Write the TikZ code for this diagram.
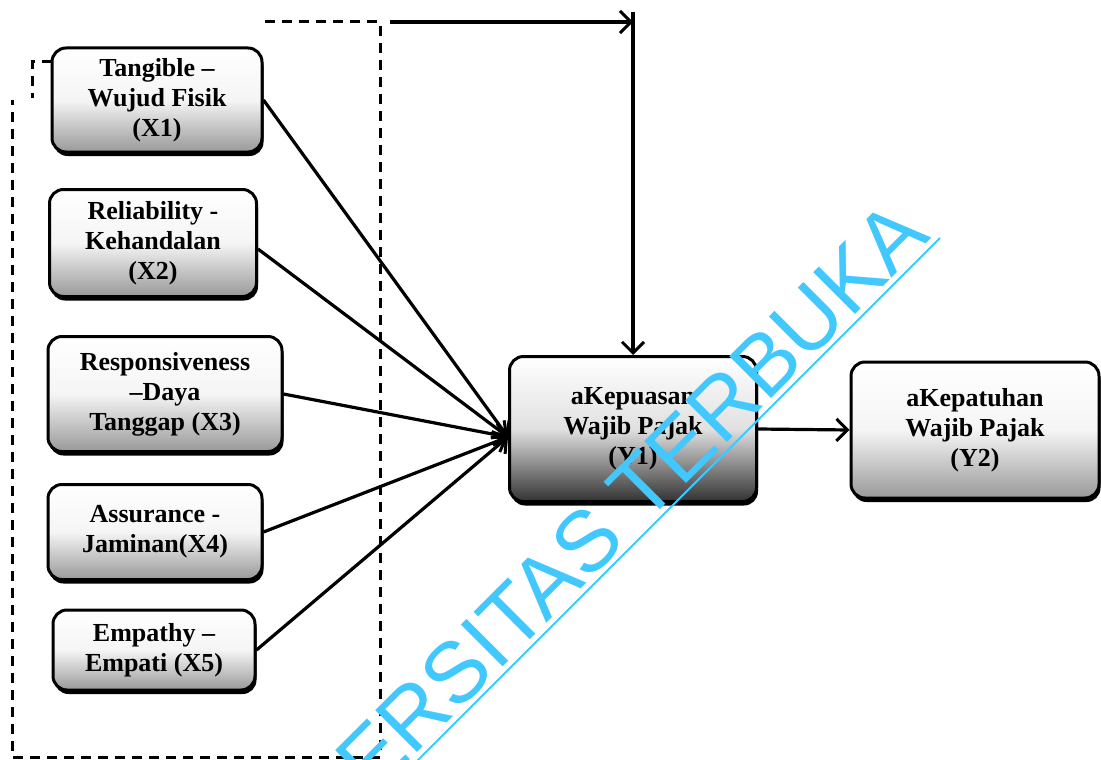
\documentclass[tikz,border=0pt]{standalone}
\usepackage{fontspec}
\setmainfont{Liberation Serif}
\newfontfamily\wmfont{Liberation Sans}
\usetikzlibrary{arrows.meta,shadows}
\definecolor{wmcyan}{RGB}{64,200,255}
\begin{document}
\begin{tikzpicture}[x=1pt,y=-1pt,
  boxnode/.style={draw=black, line width=3pt, rounded corners=14pt, align=center,
    font=\bfseries\fontsize{26}{30}\selectfont, inner sep=2pt,
    top color=white, bottom color=black!40, middle color=black!4,
    drop shadow={shadow xshift=1.5pt, shadow yshift=-4pt, fill=black, opacity=1}},
  darkbox/.style={boxnode, top color=white, bottom color=black!80, middle color=black!12},
  conn/.style={line width=3.2pt, -{Straight Barb[length=11pt,width=22pt,line width=3pt]}},
  dashbox/.style={line width=3pt, dash pattern=on 10pt off 7pt}]
\useasboundingbox (0,0) rectangle (1101,760);
\clip (0,0) rectangle (1101,760);
\fill[white] (0,0) rectangle (1101,760);

% dashed frame
\draw[dashbox] (265,22) -- (380,22) -- (380,757) -- (12,757) -- (12,100);
\draw[dashbox] (52,62) -- (32,62) -- (32,98);

% boxes
\node[boxnode, minimum width=210pt, minimum height=104pt] (x1) at (157,100) {Tangible –\\Wujud Fisik\\(X1)};
\node[boxnode, minimum width=207pt, minimum height=107pt] (x2) at (153,243) {Reliability -\\Kehandalan\\(X2)};
\node[boxnode, minimum width=234pt, minimum height=115pt] (x3) at (165,394) {Responsiveness\\–Daya\\Tanggap (X3)};
\node[boxnode, minimum width=214pt, minimum height=95pt] (x4) at (155,532) {Assurance -\\Jaminan(X4)};
\node[boxnode, minimum width=202pt, minimum height=80pt] (x5) at (154,650) {Empathy –\\Empati (X5)};
\node[darkbox, minimum width=247pt, minimum height=145pt] (y1) at (633,429) {aKepuasan\\Wajib Pajak\\(Y1)};
\node[boxnode, minimum width=248pt, minimum height=136pt] (y2) at (975,430) {aKepatuhan\\Wajib Pajak\\(Y2)};

% connectors
\coordinate (conv) at ([yshift=-8pt]y1.west);
\draw[conn] (x1.east) -- (conv);
\draw[conn] ([yshift=-6pt]x2.east) -- (conv);
\draw[conn] (x3.east) -- (conv);
\draw[conn] (x4.east) -- (conv);
\draw[conn] (x5.east) -- (conv);
\draw[conn] (y1.east) -- (y2.west);
\coordinate (tstart) at (390,22);
\coordinate (tcorner) at (y1.north |- tstart);
\draw[conn] (tstart) -- (tcorner);
\draw[conn] ([yshift=10pt]tcorner) -- (y1.north);

% watermark
\node[rotate=45, anchor=base west, text=wmcyan, inner sep=0pt,
  font=\wmfont\fontsize{86}{86}\selectfont] (wm) at (372,798) {ERSITAS TERBUKA};
\draw[wmcyan, line width=1.8pt] ([shift={(4,4)}]wm.base west) -- ([shift={(8,0)}]wm.base east);
\end{tikzpicture}
\end{document}
